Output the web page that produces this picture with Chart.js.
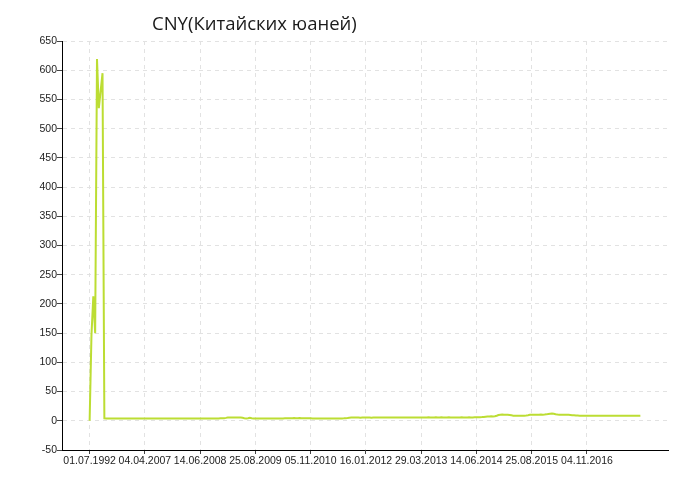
<!DOCTYPE html>
<html>
<head>
<meta charset="utf-8">
<script src="https://cdn.jsdelivr.net/npm/chart.js@4/dist/chart.umd.min.js"></script>
<style>
  html, body { margin: 0; padding: 0; background: #ffffff; }
  canvas { display: block; }
</style>
</head>
<body>
<canvas id="c" width="700" height="500"></canvas>
<script>
const chartTitle = 'CNY(Китайских юаней)';
const seriesName = 'CNY';

// Tick labels (dates) and the point index each one sits on
const tickLabels = ['01.07.1992','04.04.2007','14.06.2008','25.08.2009','05.11.2010','16.01.2012','29.03.2013','14.06.2014','25.08.2015','04.11.2016'];
const tickIndex = [0, 30, 60, 90, 120, 150, 180, 210, 240, 270];

// Y axis ticks
const yTicks = [-50, 0, 50, 100, 150, 200, 250, 300, 350, 400, 450, 500, 550, 600, 650];

// Series values (one per point, in order)
const cnyValues = [
  0, 147, 213, 150, 619, 535, 565, 595, 4.1, 4.0, 4.1, 4.0, 4.0, 4.1, 4.0, 3.9, 4.0, 4.0, 4.1, 4.0,
  4.0, 4.0, 4.1, 4.1, 4.0, 4.0, 3.9, 4.0, 4.0, 4.1, 4.0, 4.0, 4.0, 4.1, 4.0, 4.0, 3.9, 4.0, 4.0, 4.1,
  4.1, 4.0, 4.0, 4.0, 4.1, 4.0, 4.0, 4.0, 3.9, 4.0, 4.1, 4.0, 4.0, 4.0, 4.1, 4.1, 4.0, 4.0, 4.0, 4.0,
  4.0, 4.1, 4.0, 4.0, 4.0, 4.1, 4.0, 4.0, 4.0, 4.1, 4.1, 4.2, 4.3, 4.5, 5.0, 5.6, 5.8, 5.7, 5.8, 5.6,
  5.7, 5.6, 5.5, 5.2, 4.4, 4.1, 4.3, 5.0, 4.2, 4.0, 4.0, 4.1, 4.0, 4.0, 4.0, 4.1, 4.0, 4.0, 4.1, 4.0,
  4.0, 4.0, 4.1, 4.0, 4.0, 4.1, 4.2, 4.3, 4.4, 4.5, 4.5, 4.6, 4.5, 4.5, 4.6, 4.5, 4.4, 4.5, 4.5, 4.4,
  4.3, 4.1, 4.0, 4.0, 4.1, 4.0, 4.0, 4.0, 4.1, 4.0, 3.9, 4.0, 4.0, 4.1, 4.0, 4.0, 4.0, 4.1, 4.2, 4.4,
  4.8, 5.3, 5.5, 5.6, 5.5, 5.5, 5.6, 5.4, 5.5, 5.5, 5.6, 5.5, 5.5, 5.4, 5.5, 5.6, 5.5, 5.5, 5.5, 5.6,
  5.6, 5.5, 5.5, 5.6, 5.7, 5.6, 5.6, 5.5, 5.6, 5.7, 5.7, 5.6, 5.6, 5.7, 5.8, 5.7, 5.7, 5.8, 5.8, 5.7,
  5.8, 5.8, 5.7, 5.8, 5.9, 5.8, 5.8, 5.8, 5.9, 5.8, 5.8, 5.9, 5.8, 5.8, 5.8, 5.9, 5.8, 5.8, 5.7, 5.8,
  5.8, 5.8, 5.9, 5.8, 5.8, 5.8, 5.9, 5.8, 5.8, 5.9, 5.9, 6.0, 6.1, 6.3, 6.6, 6.9, 7.2, 7.5, 7.6, 7.5,
  7.7, 8.6, 9.8, 10.4, 10.6, 10.3, 10.5, 10.2, 9.8, 9.3, 8.8, 8.7, 8.6, 8.7, 8.8, 8.7, 8.8, 9.1, 9.6, 10.2,
  10.4, 10.3, 10.5, 10.4, 10.4, 10.6, 10.5, 10.7, 11.0, 11.6, 12.1, 12.3, 12.0, 11.2, 10.6, 10.5, 10.4, 10.5, 10.3, 10.4,
  10.2, 10.0, 9.6, 9.4, 9.0, 8.9, 8.8, 8.8, 8.7, 8.8, 8.7, 8.7, 8.8, 8.7, 8.6, 8.7, 8.7, 8.6, 8.7, 8.7,
  8.7, 8.8, 8.7, 8.7, 8.6, 8.7, 8.7, 8.8, 8.7, 8.7, 8.6, 8.7, 8.7, 8.8, 8.7, 8.7, 8.8, 8.7, 8.7, 8.8
];

const points = cnyValues.map((v, i) => ({ x: i, y: v }));
const tickFont = { family: '"Liberation Sans", Arial, sans-serif', size: 10.5 };

const titlePlugin = {
  id: 'leftTitle',
  afterDraw(chart) {
    const ctx = chart.ctx;
    ctx.save();
    ctx.font = '18.5px "Open Sans", "Noto Sans", sans-serif';
    ctx.fillStyle = '#1a1a1a';
    ctx.textAlign = 'left';
    ctx.textBaseline = 'alphabetic';
    ctx.fillText(chartTitle, 152, 29.5);
    ctx.restore();
  }
};

new Chart(document.getElementById('c'), {
  type: 'line',
  data: {
    datasets: [{
      label: seriesName,
      data: points,
      borderColor: '#bcdd33',
      backgroundColor: '#bcdd33',
      borderWidth: 2,
      pointRadius: 0,
      tension: 0,
      fill: false
    }]
  },
  plugins: [titlePlugin],
  options: {
    responsive: false,
    animation: false,
    layout: { padding: { top: 41, right: 32, bottom: 0, left: 0 } },
    plugins: {
      legend: { display: false },
      title: { display: false },
      tooltip: { enabled: false }
    },
    scales: {
      x: {
        type: 'linear',
        min: -15,
        max: 314,
        afterBuildTicks(scale) { scale.ticks = tickIndex.map(v => ({ value: v })); },
        afterFit(scale) { scale.height = 50; },
        grid: {
          color: '#e2e2e2',
          tickBorderDash: [],
          tickColor: '#444',
          tickLength: 4,
          drawTicks: true
        },
        border: { display: true, color: '#000', width: 1, dash: [4, 4] },
        ticks: {
          autoSkip: false,
          maxRotation: 0,
          minRotation: 0,
          padding: 1,
          color: '#222',
          font: tickFont,
          callback(value) {
            const k = tickIndex.indexOf(value);
            return k >= 0 ? tickLabels[k] : '';
          }
        }
      },
      y: {
        type: 'linear',
        min: -50,
        max: 650,
        afterBuildTicks(scale) { scale.ticks = yTicks.map(v => ({ value: v })); },
        afterFit(scale) { scale.width = 62; },
        grid: {
          color: '#e2e2e2',
          tickBorderDash: [],
          tickColor: '#444',
          tickLength: 5,
          drawTicks: true
        },
        border: { display: true, color: '#000', width: 1, dash: [4, 4] },
        ticks: {
          padding: 0,
          color: '#222',
          font: tickFont
        }
      }
    }
  }
});
</script>
</body>
</html>
